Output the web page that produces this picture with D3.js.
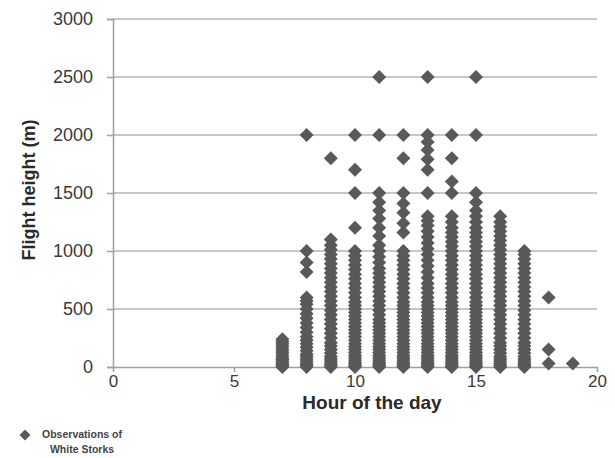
<!DOCTYPE html>
<html>
<head>
<meta charset="utf-8">
<script src="https://cdn.jsdelivr.net/npm/d3@7"></script>
<style>
  html, body { margin: 0; padding: 0; background: #ffffff; }
  svg { display: block; }
</style>
</head>
<body>
<svg id="chart" width="615" height="458"></svg>
<script>
// ---- data (flight height in m, per hour of the day) ----
const hours = [7, 8, 9, 10, 11, 12, 13, 14, 15, 16, 17, 18, 19];
const h7  = [0, 10, 20, 35, 50, 65, 80, 100, 120, 140, 160, 180, 200, 220, 240];
const h8  = [0, 15, 30, 50, 70, 90, 110, 140, 170, 200, 230, 260, 300, 340, 380, 420, 460, 500, 540, 570, 600, 820, 900, 1000, 2000];
const h9  = [0, 15, 30, 50, 70, 90, 120, 150, 180, 210, 250, 290, 330, 370, 410, 450, 490, 530, 570, 610, 650, 690, 730, 770, 810, 850, 890, 930, 970, 1010, 1050, 1100, 1800];
const h10 = [0, 10, 25, 40, 60, 80, 100, 125, 150, 175, 200, 230, 260, 290, 320, 350, 380, 410, 440, 470, 500, 530, 560, 600, 640, 680, 720, 760, 800, 840, 880, 920, 960, 1000, 1200, 1500, 1700, 2000];
const h11 = [0, 10, 25, 40, 60, 80, 100, 125, 150, 175, 200, 230, 260, 290, 320, 350, 380, 410, 450, 490, 530, 570, 610, 650, 690, 730, 770, 810, 850, 900, 950, 1000, 1050, 1130, 1200, 1280, 1350, 1420, 1500, 2000, 2500];
const h12 = [0, 10, 25, 40, 60, 80, 100, 125, 150, 175, 200, 230, 260, 290, 320, 350, 380, 410, 440, 470, 500, 530, 560, 600, 640, 680, 720, 760, 800, 840, 880, 920, 960, 1000, 1160, 1240, 1330, 1410, 1500, 1800, 2000];
const h13 = [0, 10, 25, 40, 60, 80, 100, 125, 150, 175, 200, 230, 260, 290, 320, 350, 380, 410, 440, 470, 500, 530, 560, 600, 640, 680, 720, 770, 820, 870, 920, 970, 1020, 1070, 1120, 1170, 1220, 1260, 1300, 1500, 1700, 1790, 1870, 1940, 2000, 2500];
const h14 = [0, 10, 25, 40, 60, 80, 100, 125, 150, 175, 200, 230, 260, 290, 320, 350, 380, 410, 440, 470, 500, 530, 560, 600, 640, 680, 720, 760, 800, 840, 880, 920, 960, 1000, 1040, 1080, 1120, 1160, 1200, 1250, 1300, 1500, 1600, 1800, 2000];
const h15 = [0, 10, 25, 40, 60, 80, 100, 125, 150, 175, 200, 230, 260, 290, 320, 350, 380, 410, 440, 470, 500, 530, 560, 600, 640, 680, 720, 760, 800, 840, 880, 920, 960, 1000, 1040, 1080, 1120, 1160, 1200, 1250, 1300, 1350, 1420, 1500, 2000, 2500];
const h16 = [0, 15, 30, 50, 70, 90, 120, 150, 180, 210, 250, 290, 330, 370, 410, 450, 490, 530, 570, 610, 650, 690, 730, 770, 810, 850, 890, 930, 970, 1010, 1050, 1090, 1130, 1170, 1210, 1250, 1300];
const h17 = [0, 15, 30, 50, 70, 90, 120, 150, 180, 210, 250, 290, 330, 370, 410, 450, 490, 530, 570, 610, 650, 690, 730, 770, 810, 850, 890, 930, 970, 1000];
const h18 = [30, 150, 600];
const h19 = [30];
const heightsByHour = [h7, h8, h9, h10, h11, h12, h13, h14, h15, h16, h17, h18, h19];

const xTicks = [0, 5, 10, 15, 20];
const yTicks = [0, 500, 1000, 1500, 2000, 2500, 3000];
const xTitle = "Hour of the day";
const yTitle = "Flight height (m)";
const legendLines = ["Observations of", "White Storks"];

// flatten into point records
const points = [];
hours.forEach((h, i) => heightsByHour[i].forEach(v => points.push({ hour: h, height: v })));

// ---- layout ----
const svg = d3.select("#chart");
const plotLeft = 113, plotRight = 597, plotTop = 19, plotBottom = 367;
const x = d3.scaleLinear().domain([0, 20]).range([plotLeft, plotRight]);
const y = d3.scaleLinear().domain([0, 3000]).range([plotBottom, plotTop]);

const font = "'Liberation Sans', Arial, sans-serif";
const markColor = "#595959";
const gridColor = "#b4b4b4";
const axisColor = "#a0a0a0";
const textColor = "#3a3a3a";

// gridlines
svg.append("g")
  .selectAll("line")
  .data(yTicks.filter(d => d > 0))
  .join("line")
  .attr("x1", plotLeft).attr("x2", plotRight)
  .attr("y1", d => y(d)).attr("y2", d => y(d))
  .attr("stroke", gridColor).attr("stroke-width", 1.5);

// y axis
const yAxis = svg.append("g")
  .attr("transform", `translate(${plotLeft},0)`)
  .call(d3.axisLeft(y).tickValues(yTicks).tickSize(6).tickPadding(14).tickFormat(d3.format("d")));
yAxis.select(".domain").attr("stroke", axisColor).attr("stroke-width", 1.5);
yAxis.selectAll(".tick line").attr("stroke", axisColor).attr("stroke-width", 1.5);
yAxis.selectAll(".tick text").attr("fill", textColor).style("font-family", font).style("font-size", "18px");

// x axis
const xAxis = svg.append("g")
  .attr("transform", `translate(0,${plotBottom})`)
  .call(d3.axisBottom(x).tickValues(xTicks).tickSize(5).tickPadding(3).tickSizeOuter(0));
xAxis.select(".domain").attr("stroke", axisColor).attr("stroke-width", 1.5);
xAxis.selectAll(".tick line").attr("stroke", axisColor).attr("stroke-width", 1.5);
xAxis.selectAll(".tick text").attr("fill", textColor).style("font-family", font).style("font-size", "17px");

// diamonds
const diamond = "M0,-7L7,0L0,7L-7,0Z";
svg.append("g")
  .selectAll("path")
  .data(points)
  .join("path")
  .attr("d", diamond)
  .attr("transform", d => `translate(${x(d.hour)},${y(d.height)})`)
  .attr("fill", markColor);

// axis titles
svg.append("text")
  .attr("x", 372).attr("y", 409)
  .attr("text-anchor", "middle")
  .style("font-family", font).style("font-size", "19px").style("font-weight", "bold")
  .attr("fill", "#2a2a2a")
  .text(xTitle);

svg.append("text")
  .attr("transform", `translate(35,190) rotate(-90)`)
  .attr("text-anchor", "middle")
  .style("font-family", font).style("font-size", "18px").style("font-weight", "bold")
  .attr("fill", "#2a2a2a")
  .text(yTitle);

// legend
svg.append("path")
  .attr("d", "M0,-5.5L5.5,0L0,5.5L-5.5,0Z")
  .attr("transform", "translate(25,435)")
  .attr("fill", markColor);
svg.append("g").selectAll("text")
  .data(legendLines)
  .join("text")
  .attr("x", 82).attr("y", (d, i) => 438 + i * 15)
  .attr("text-anchor", "middle")
  .style("font-family", font).style("font-size", "10.5px").style("font-weight", "bold")
  .attr("fill", "#444")
  .text(d => d);
</script>
</body>
</html>
